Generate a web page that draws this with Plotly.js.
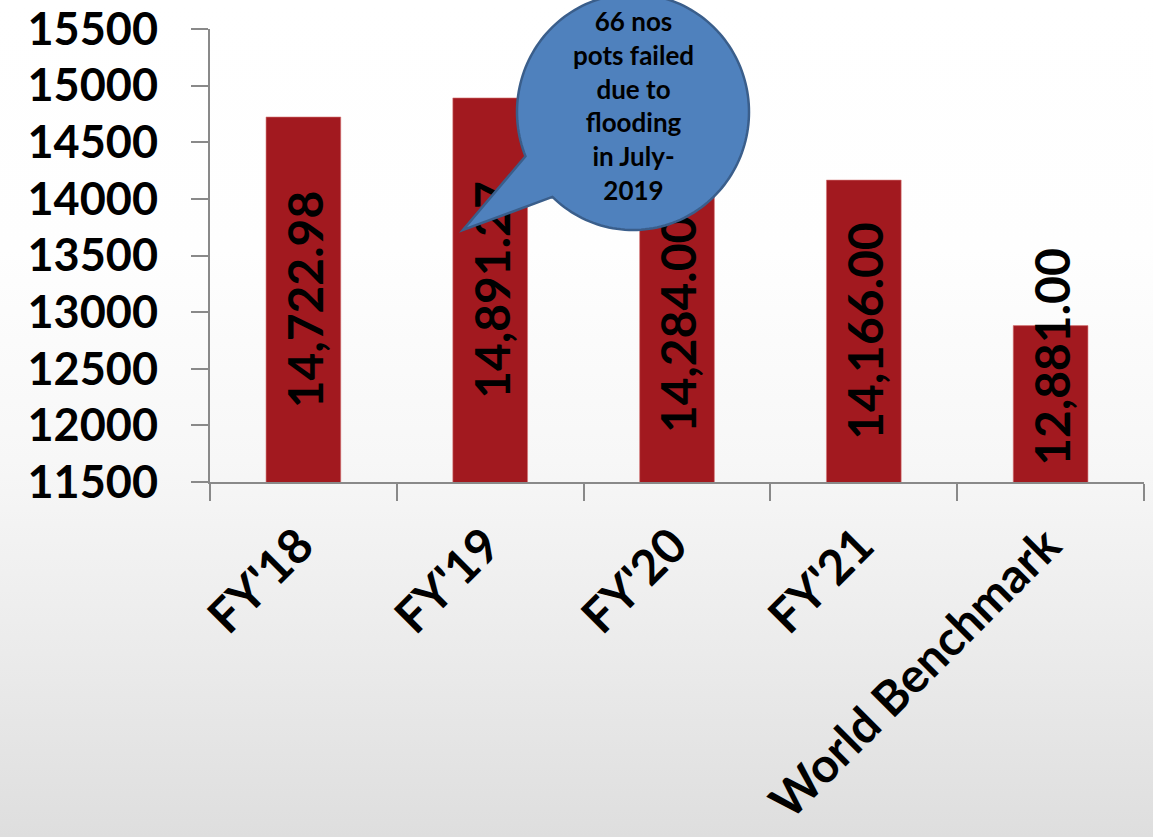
<!DOCTYPE html>
<html>
<head>
<meta charset="utf-8">
<script src="https://cdn.plot.ly/plotly-3.0.1.min.js"></script>
<style>
  html, body { margin: 0; padding: 0; }
  body {
    width: 1153px; height: 837px; overflow: hidden;
    background: linear-gradient(to bottom, #ffffff 0%, #fefefe 30%, #f7f7f7 55%, #ebebeb 78%, #dedede 100%);
  }
  #chart { width: 1153px; height: 837px; }
</style>
</head>
<body>
<div id="chart"></div>
<script>
// Pot life by year, compared with the world benchmark
const categories = ["FY'18", "FY'19", "FY'20", "FY'21", "World Benchmark"];
const values = [14722.98, 14891.27, 14284.00, 14166.00, 12881.00];
const yTicks = [11500, 12000, 12500, 13000, 13500, 14000, 14500, 15000, 15500];
const calloutLines = ["66 nos", "pots failed", "due to", "flooding", "in July-", "2019"];

const W = 1153, H = 837;
const M = { l: 210, r: 9, t: 29, b: 355 };
const plotW = W - M.l - M.r, plotH = H - M.t - M.b;
const yMin = yTicks[0], yMax = yTicks[yTicks.length - 1];
const unitsPerPx = (yMax - yMin) / plotH;

const barColor = '#A2191F';
const axisColor = '#898989';
const fontFam = 'Lato, "Open Sans", sans-serif';

const fmt = v => v.toLocaleString('en-US', { minimumFractionDigits: 2, maximumFractionDigits: 2 });

// value labels: centred on the bar, but kept clear of the axis line
const labelHalfPx = 106, labelGapPx = 19;
const labelShapes = values.map((v, i) => {
  const mid = (yMin + v) / 2;
  const centre = Math.max(mid, yMin + (labelHalfPx + labelGapPx) * unitsPerPx);
  return {
    type: 'rect', xref: 'x', yref: 'y', layer: 'above',
    x0: i - 0.2, x1: i + 0.2, y0: centre - 100, y1: centre + 100,
    fillcolor: 'rgba(0,0,0,0)', line: { width: 0 },
    label: {
      text: fmt(v), textangle: -90, textposition: 'middle center',
      font: { family: fontFam, size: 48, weight: 'bold', color: '#000000' }
    }
  };
});

// speech bubble: ellipse outline with a pointed tail, in pixel space -> paper
const toPaperX = px => (px - M.l) / plotW;
const toPaperY = py => (H - M.b - py) / plotH;
const bub = { cx: 633, cy: 112, rx: 116, ry: 118, t0: 158, t1: 495, tipX: 463, tipY: 230 };
let pts = [];
for (let t = bub.t0; t <= bub.t1; t += 2) {
  const a = t * Math.PI / 180;
  pts.push([bub.cx + bub.rx * Math.cos(a), bub.cy + bub.ry * Math.sin(a)]);
}
pts.push([bub.tipX, bub.tipY]);
const bubblePath = pts.map((p, k) => (k === 0 ? 'M' : 'L') + toPaperX(p[0]).toFixed(5) + ',' + toPaperY(p[1]).toFixed(5)).join(' ') + ' Z';

const bubbleShape = {
  type: 'path', xref: 'paper', yref: 'paper', layer: 'above',
  path: bubblePath, fillcolor: '#4F81BD',
  line: { color: '#3A5E8B', width: 2.5 }
};

const trace = {
  type: 'bar',
  x: categories,
  y: values,
  marker: { color: barColor, line: { color: 'rgba(215,120,120,0.6)', width: 1 } },
  hoverinfo: 'skip'
};

const yTickFont = { family: fontFam, size: 45, weight: 'bold', color: '#000000' };
const xTickFont = { family: fontFam, size: 48, weight: 'bold', color: '#000000' };

const layout = {
  width: W, height: H,
  margin: M,
  paper_bgcolor: 'rgba(0,0,0,0)',
  plot_bgcolor: 'rgba(0,0,0,0)',
  showlegend: false,
  bargap: 0.6,
  xaxis: {
    type: 'category', range: [-0.5, categories.length - 0.5],
    showline: true, linecolor: axisColor, linewidth: 2,
    ticks: 'outside', tickson: 'boundaries', ticklen: 17, tickwidth: 2, tickcolor: axisColor,
    tickangle: -45, tickfont: xTickFont, showgrid: false, zeroline: false, fixedrange: true,
    ticklabelstandoff: 14, ticklabelshift: -4
  },
  yaxis: {
    range: [yMin, yMax], tickvals: yTicks, ticktext: yTicks.map(String),
    showline: true, linecolor: axisColor, linewidth: 2,
    ticks: 'outside', ticklen: 17, tickwidth: 2, tickcolor: axisColor,
    tickfont: yTickFont, showgrid: false, zeroline: false, fixedrange: true,
    ticklabelstandoff: 24
  },
  shapes: labelShapes.concat([bubbleShape]),
  annotations: [{
    xref: 'paper', yref: 'paper',
    x: toPaperX(bub.cx), y: toPaperY(106),
    xanchor: 'center', yanchor: 'middle',
    text: calloutLines.join('<br>'), showarrow: false, align: 'center',
    font: { family: fontFam, size: 26, weight: 'bold', color: '#000000' }
  }]
};

Plotly.newPlot('chart', [trace], layout, { staticPlot: true, displayModeBar: false });
</script>
</body>
</html>
